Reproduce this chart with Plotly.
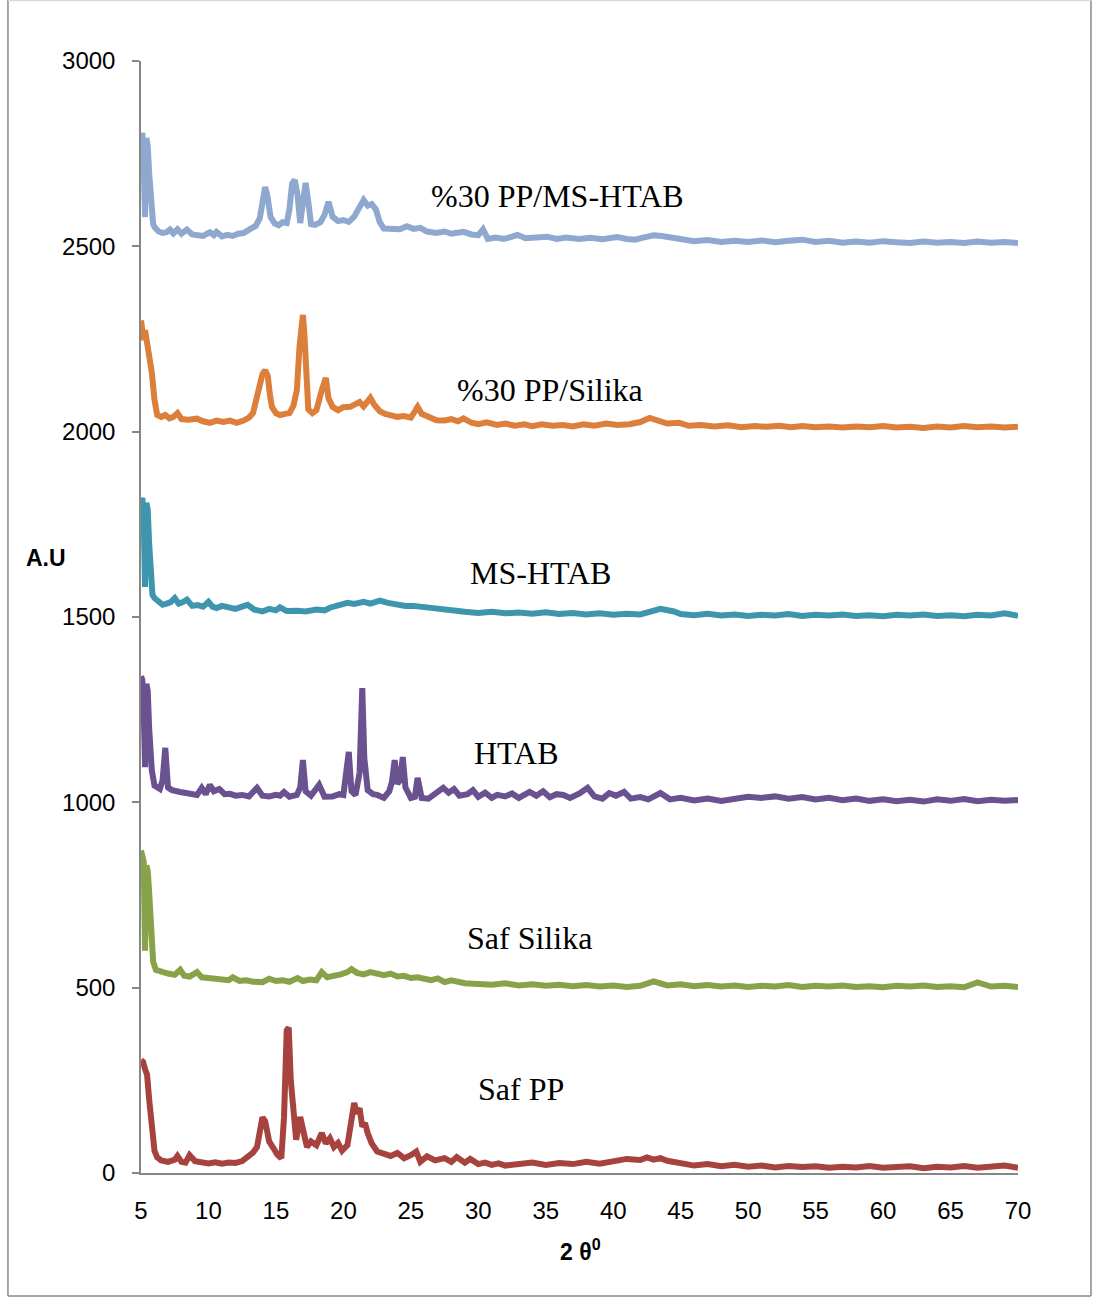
import plotly.graph_objects as go

# ---------------- data ----------------
SAF_PP = [(5.0,305),(5.15,300),(5.3,280),(5.45,265),(5.6,200),(5.8,110),(6.0,60),(6.2,42),(6.5,34),(7.0,30),(7.5,36),(7.7,46),(8.0,30),(8.3,28),(8.6,48),(9.0,32),(9.5,27),(10.0,26),(10.5,29),(11.0,25),(11.5,28),(12.0,27),(12.5,32),(12.9,43),(13.3,55),(13.6,70),(13.8,110),(14.0,150),(14.2,140),(14.5,85),(14.8,68),(15.1,50),(15.4,40),(15.6,150),(15.8,385),(15.95,392),(16.1,250),(16.3,143),(16.5,90),(16.8,151),(17.0,110),(17.3,70),(17.6,85),(18.0,75),(18.4,108),(18.7,80),(19.0,94),(19.3,70),(19.6,81),(19.9,60),(20.3,75),(20.6,150),(20.8,189),(21.0,160),(21.2,175),(21.4,125),(21.6,135),(21.8,108),(22.1,80),(22.5,58),(23.0,50),(23.5,46),(24.0,54),(24.5,40),(25.0,48),(25.4,58),(25.7,30),(26.2,45),(26.8,34),(27.5,40),(28.0,30),(28.4,43),(29.0,28),(29.4,38),(30.0,24),(30.5,28),(31.0,22),(31.5,26),(32.0,20),(33.0,24),(34.0,28),(35.0,22),(36.0,27),(37.0,24),(38.0,30),(39.0,25),(40.0,32),(41.0,38),(42.0,35),(42.5,42),(43.0,36),(43.5,40),(44.0,33),(45.0,25),(46.0,20),(47.0,24),(48.0,18),(49.0,22),(50.0,17),(51.0,20),(52.0,15),(53.0,19),(54.0,16),(55.0,18),(56.0,14),(57.0,17),(58.0,15),(59.0,19),(60.0,14),(61.0,16),(62.0,18),(63.0,13),(64.0,17),(65.0,15),(66.0,19),(67.0,14),(68.0,16),(69.0,20),(70.0,14)]

SAF_SILIKA = [(5.0,870),(5.1,860),(5.2,840),(5.3,600),(5.4,830),(5.5,815),(5.6,760),(5.75,640),(5.9,570),(6.1,548),(6.5,542),(7.0,538),(7.5,535),(7.9,548),(8.2,532),(8.6,530),(9.15,542),(9.5,528),(10.0,526),(10.5,524),(11.0,522),(11.5,520),(11.8,528),(12.3,518),(12.8,520),(13.3,516),(14.0,515),(14.5,524),(15.0,518),(15.5,520),(16.0,516),(16.6,526),(17.0,518),(17.5,522),(18.0,520),(18.4,542),(18.8,528),(19.3,530),(19.8,536),(20.3,542),(20.6,550),(21.0,540),(21.5,536),(22.0,542),(22.5,537),(23.0,534),(23.5,538),(24.0,530),(24.5,532),(25.0,526),(25.5,528),(26.0,522),(26.5,520),(27.0,525),(27.5,515),(28.0,520),(29.0,512),(30.0,510),(31.0,508),(32.0,512),(33.0,506),(34.0,509),(35.0,505),(36.0,508),(37.0,504),(38.0,507),(39.0,503),(40.0,506),(41.0,502),(42.0,505),(43.0,517),(44.0,506),(45.0,509),(46.0,504),(47.0,507),(48.0,503),(49.0,506),(50.0,502),(51.0,505),(52.0,503),(53.0,507),(54.0,502),(55.0,505),(56.0,503),(57.0,506),(58.0,502),(59.0,504),(60.0,501),(61.0,505),(62.0,503),(63.0,506),(64.0,502),(65.0,504),(66.0,501),(67.0,514),(68.0,503),(69.0,505),(70.0,502)]

HTAB = [(5.0,1340),(5.1,1330),(5.2,1250),(5.3,1095),(5.4,1320),(5.5,1300),(5.6,1203),(5.8,1087),(6.0,1045),(6.2,1040),(6.4,1036),(6.6,1060),(6.8,1147),(7.0,1040),(7.3,1033),(7.9,1028),(8.5,1025),(9.15,1020),(9.5,1039),(9.8,1022),(10.1,1047),(10.4,1030),(10.8,1036),(11.2,1022),(11.6,1023),(12.0,1018),(12.5,1020),(13.0,1016),(13.6,1039),(14.0,1018),(14.5,1016),(15.0,1020),(15.3,1018),(15.6,1028),(16.0,1015),(16.55,1020),(16.8,1040),(17.0,1114),(17.2,1030),(17.6,1018),(18.2,1047),(18.6,1015),(19.2,1016),(19.7,1022),(20.0,1020),(20.25,1080),(20.4,1136),(20.6,1030),(20.9,1020),(21.2,1080),(21.4,1308),(21.55,1120),(21.8,1033),(22.2,1022),(22.5,1020),(23.0,1012),(23.4,1030),(23.6,1055),(23.8,1114),(24.0,1050),(24.2,1060),(24.4,1122),(24.6,1040),(25.0,1012),(25.3,1015),(25.5,1066),(25.8,1012),(26.3,1010),(26.8,1022),(27.4,1039),(27.8,1026),(28.2,1036),(28.6,1018),(29.2,1022),(29.6,1033),(30.0,1015),(30.5,1026),(31.0,1012),(31.4,1020),(32.0,1016),(32.5,1024),(33.0,1012),(33.8,1028),(34.3,1018),(34.8,1030),(35.3,1014),(35.8,1022),(36.3,1020),(36.8,1012),(37.5,1024),(38.1,1039),(38.6,1016),(39.2,1010),(39.7,1025),(40.2,1018),(40.8,1028),(41.3,1010),(42.0,1014),(42.6,1008),(43.5,1025),(44.2,1008),(45.0,1012),(46.0,1005),(47.0,1010),(48.0,1004),(49.0,1008),(50.0,1015),(51.0,1012),(52.0,1016),(53.0,1010),(54.0,1014),(55.0,1008),(56.0,1012),(57.0,1006),(58.0,1010),(59.0,1004),(60.0,1008),(61.0,1003),(62.0,1007),(63.0,1002),(64.0,1008),(65.0,1004),(66.0,1009),(67.0,1003),(68.0,1007),(69.0,1004),(70.0,1006)]

MS_HTAB = [(5.0,1810),(5.1,1821),(5.2,1760),(5.3,1581),(5.4,1808),(5.5,1790),(5.6,1700),(5.7,1600),(5.85,1560),(6.0,1551),(6.3,1540),(6.6,1533),(6.9,1536),(7.2,1540),(7.5,1551),(7.8,1536),(8.1,1540),(8.4,1547),(8.8,1530),(9.2,1532),(9.6,1528),(10.0,1541),(10.3,1528),(10.6,1524),(11.0,1530),(11.6,1524),(12.0,1522),(12.5,1528),(12.9,1533),(13.4,1520),(14.0,1515),(14.5,1522),(15.0,1518),(15.3,1526),(15.8,1516),(16.6,1517),(17.2,1515),(18.0,1520),(18.6,1518),(19.0,1525),(19.6,1530),(20.3,1538),(20.8,1535),(21.5,1541),(22.0,1536),(22.7,1544),(23.3,1538),(24.0,1533),(24.6,1530),(25.2,1530),(25.8,1527),(26.4,1524),(27.0,1522),(27.6,1518),(28.2,1516),(29.0,1514),(30.0,1511),(31.0,1514),(32.0,1510),(33.0,1512),(34.0,1509),(35.0,1513),(36.0,1508),(37.0,1511),(38.0,1507),(39.0,1510),(40.0,1506),(41.0,1509),(42.0,1507),(43.5,1522),(44.5,1515),(45.0,1508),(46.0,1505),(47.0,1509),(48.0,1504),(49.0,1507),(50.0,1503),(51.0,1506),(52.0,1504),(53.0,1508),(54.0,1503),(55.0,1506),(56.0,1504),(57.0,1507),(58.0,1503),(59.0,1505),(60.0,1502),(61.0,1506),(62.0,1504),(63.0,1507),(64.0,1503),(65.0,1505),(66.0,1502),(67.0,1506),(68.0,1504),(69.0,1510),(70.0,1503)]

PP_SILIKA = [(5.0,2300),(5.1,2280),(5.2,2247),(5.3,2274),(5.45,2240),(5.6,2228),(5.8,2160),(6.0,2086),(6.2,2045),(6.5,2040),(6.8,2045),(7.1,2036),(7.4,2040),(7.7,2050),(8.0,2034),(8.5,2032),(9.15,2035),(9.6,2028),(10.1,2024),(10.6,2030),(11.1,2026),(11.6,2030),(12.1,2024),(12.6,2030),(13.0,2038),(13.3,2050),(13.6,2090),(13.8,2131),(14.0,2155),(14.2,2166),(14.4,2150),(14.55,2100),(14.7,2067),(15.0,2050),(15.3,2045),(15.7,2048),(16.0,2050),(16.3,2070),(16.55,2112),(16.75,2230),(16.9,2300),(17.0,2315),(17.1,2270),(17.2,2201),(17.4,2060),(17.7,2050),(18.0,2058),(18.4,2112),(18.7,2145),(18.9,2090),(19.2,2067),(19.6,2058),(20.0,2066),(20.5,2067),(20.9,2075),(21.2,2080),(21.5,2068),(21.8,2085),(22.0,2091),(22.3,2072),(22.7,2055),(23.1,2048),(23.5,2045),(24.0,2040),(24.5,2042),(25.0,2038),(25.3,2055),(25.5,2067),(25.8,2048),(26.3,2040),(26.9,2031),(27.5,2030),(28.0,2034),(28.5,2028),(28.9,2036),(29.5,2024),(30.0,2020),(30.6,2025),(31.4,2018),(32.0,2022),(32.7,2016),(33.4,2020),(34.0,2015),(34.7,2020),(35.5,2016),(36.3,2018),(37.0,2014),(37.8,2020),(38.6,2016),(39.5,2022),(40.3,2018),(41.2,2020),(42.0,2026),(42.7,2037),(43.4,2030),(44.0,2022),(44.9,2024),(45.6,2016),(46.5,2018),(47.5,2014),(48.5,2017),(49.5,2012),(50.5,2015),(51.4,2013),(52.3,2016),(53.2,2012),(54.0,2015),(55.0,2012),(56.0,2014),(57.0,2011),(58.0,2014),(59.0,2012),(60.0,2015),(61.0,2011),(62.0,2013),(63.0,2010),(64.0,2014),(65.0,2011),(66.0,2015),(67.0,2012),(68.0,2014),(69.0,2011),(70.0,2013)]

PP_MS_HTAB = [(5.0,2790),(5.1,2806),(5.2,2720),(5.3,2579),(5.4,2792),(5.5,2770),(5.6,2700),(5.75,2600),(5.9,2560),(6.0,2552),(6.3,2540),(6.6,2536),(6.9,2538),(7.15,2545),(7.4,2535),(7.7,2546),(8.0,2534),(8.4,2545),(8.8,2532),(9.2,2530),(9.6,2528),(10.1,2538),(10.4,2530),(10.6,2539),(11.0,2527),(11.4,2531),(11.8,2528),(12.2,2534),(12.6,2536),(13.1,2547),(13.5,2555),(13.8,2575),(14.0,2625),(14.2,2660),(14.35,2640),(14.6,2580),(14.9,2562),(15.2,2557),(15.5,2565),(15.8,2563),(16.0,2600),(16.2,2670),(16.4,2679),(16.6,2640),(16.8,2563),(17.0,2620),(17.2,2671),(17.4,2620),(17.6,2560),(17.9,2558),(18.3,2565),(18.6,2585),(18.9,2620),(19.2,2580),(19.6,2568),(20.0,2571),(20.4,2566),(20.8,2580),(21.1,2600),(21.3,2612),(21.5,2625),(21.8,2610),(22.1,2614),(22.4,2600),(22.7,2565),(23.0,2548),(23.4,2546),(23.8,2544),(24.2,2546),(24.7,2554),(25.2,2547),(25.7,2550),(26.2,2540),(26.9,2536),(27.5,2540),(28.0,2534),(28.9,2539),(29.5,2532),(30.0,2530),(30.35,2546),(30.7,2520),(31.3,2524),(31.9,2520),(32.5,2526),(32.9,2531),(33.5,2522),(34.2,2524),(35.1,2526),(35.8,2520),(36.5,2524),(37.5,2520),(38.3,2523),(39.2,2519),(40.3,2525),(41.0,2520),(41.6,2518),(42.3,2524),(43.0,2530),(43.6,2528),(44.2,2524),(45.0,2518),(46.0,2514),(47.0,2517),(48.0,2512),(49.0,2515),(50.0,2512),(51.0,2516),(52.0,2511),(53.0,2515),(54.0,2518),(55.0,2512),(56.0,2515),(57.0,2510),(58.0,2513),(59.0,2510),(60.0,2514),(61.0,2511),(62.0,2509),(63.0,2513),(64.0,2510),(65.0,2512),(66.0,2509),(67.0,2513),(68.0,2510),(69.0,2512),(70.0,2509)]

SERIES_NAMES = ["Saf PP", "Saf Silika", "HTAB", "MS-HTAB", "%30 PP/Silika", "%30 PP/MS-HTAB"]
SERIES_DATA = [SAF_PP, SAF_SILIKA, HTAB, MS_HTAB, PP_SILIKA, PP_MS_HTAB]
SERIES_COLORS = ["#A6433F", "#87A34A", "#6A5190", "#3E96AE", "#DB7F3A", "#8EA8D0"]
# label anchor (x, y) in data units
LABEL_X = [33.2, 33.8, 32.8, 34.6, 35.3, 35.9]
LABEL_Y = [227, 634, 1133, 1619, 2112, 2636]

X_TICKS = list(range(5, 75, 5))
Y_TICKS = list(range(0, 3500, 500))

# ---------------- figure ----------------
fig = go.Figure()
for name, data, color in zip(SERIES_NAMES, SERIES_DATA, SERIES_COLORS):
    xs = [p[0] for p in data]
    ys = [p[1] for p in data]
    fig.add_trace(go.Scatter(x=xs, y=ys, mode="lines", name=name,
                             line=dict(color=color, width=6), showlegend=False))

for name, lx, ly in zip(SERIES_NAMES, LABEL_X, LABEL_Y):
    fig.add_annotation(x=lx, y=ly, xref="x", yref="y", text=name, showarrow=False,
                       xanchor="center", yanchor="middle",
                       font=dict(family="Liberation Serif", size=32, color="black"))

fig.add_annotation(x=-0.1083, y=0.553, xref="paper", yref="paper", text="<b>A.U</b>",
                   showarrow=False, xanchor="center", yanchor="middle",
                   font=dict(family="Liberation Sans", size=23, color="black"))
fig.add_annotation(x=0.5006, y=-0.0692, xref="paper", yref="paper", text="<b>2 θ<sup>0</sup></b>",
                   showarrow=False, xanchor="center", yanchor="middle",
                   font=dict(family="Liberation Sans", size=23, color="black"))

# outer frame
gray = "#8a8a8a"
fig.add_shape(type="line", xref="paper", yref="paper", x0=-0.1517, x1=-0.1517, y0=-0.1106, y1=1.055,
              line=dict(color=gray, width=1.5))
fig.add_shape(type="line", xref="paper", yref="paper", x0=1.0832, x1=1.0832, y0=-0.1106, y1=1.055,
              line=dict(color=gray, width=1.5))
fig.add_shape(type="line", xref="paper", yref="paper", x0=-0.1517, x1=1.0832, y0=-0.1106, y1=-0.1106,
              line=dict(color=gray, width=1.5))
fig.add_shape(type="line", xref="paper", yref="paper", x0=-0.1517, x1=1.0832, y0=1.0545, y1=1.0545,
              line=dict(color="#d9d9d9", width=1.5))

fig.update_layout(
    width=1096, height=1298,
    margin=dict(l=141, r=78, t=61, b=125),
    paper_bgcolor="white", plot_bgcolor="white",
    xaxis=dict(range=[5, 70], tickvals=X_TICKS, ticktext=[str(v) for v in X_TICKS],
               showgrid=False, zeroline=False, showline=True, linecolor="#868686", linewidth=1.5,
               ticks="", ticklabelstandoff=15,
               tickfont=dict(family="Liberation Sans", size=24, color="black")),
    yaxis=dict(range=[0, 3000], tickvals=Y_TICKS, ticktext=[str(v) for v in Y_TICKS],
               showgrid=False, zeroline=False, showline=True, linecolor="#868686", linewidth=1.5,
               ticks="outside", ticklen=7, tickcolor="#868686", tickwidth=1.5, ticklabelstandoff=12,
               tickfont=dict(family="Liberation Sans", size=24, color="black")),
)

fig.write_html("out.html")
